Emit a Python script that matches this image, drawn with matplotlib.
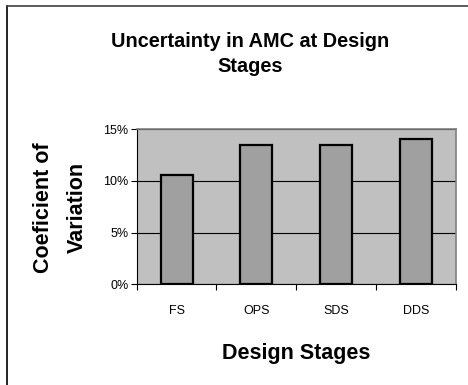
import matplotlib
matplotlib.use("Agg")
import matplotlib.pyplot as plt
from matplotlib.ticker import PercentFormatter, FixedLocator
from matplotlib.lines import Line2D

# Coefficient of variation of AMC for each design stage
stages = ["FS", "OPS", "SDS", "DDS"]
cov = [0.106, 0.135, 0.135, 0.141]
y_ticks = [0.0, 0.05, 0.10, 0.15]

plt.rcParams['font.family'] = ['Liberation Sans', 'DejaVu Sans']

fig = plt.figure(figsize=(4.68, 3.85), dpi=100)
ax = fig.add_axes([0.292, 0.262, 0.682, 0.402])

ax.set_facecolor('#C0C0C0')
x = range(len(stages))
ax.bar(x, cov, width=0.4, color='#A0A0A0', edgecolor='black', linewidth=1.6, zorder=3)

ax.set_xlim(-0.5, len(stages) - 0.5)
ax.set_ylim(0, 0.15)
ax.set_yticks(y_ticks)
ax.yaxis.set_major_formatter(PercentFormatter(1.0, decimals=0))
ax.grid(axis='y', color='black', linewidth=0.8, zorder=1)

ax.set_xticks(list(x))
ax.set_xticklabels(stages)
ax.xaxis.set_minor_locator(FixedLocator([i - 0.5 for i in range(len(stages) + 1)]))
ax.tick_params(axis='x', which='major', length=0, pad=15, labelsize=9)
ax.tick_params(axis='x', which='minor', length=4, direction='out', width=0.8)
ax.tick_params(axis='y', length=4, direction='out', width=0.8, labelsize=9, pad=2)

for s in ['top', 'right']:
    ax.spines[s].set_color('#808080')
    ax.spines[s].set_linewidth(1.2)
for s in ['left', 'bottom']:
    ax.spines[s].set_color('black')
    ax.spines[s].set_linewidth(0.8)

title_kw = dict(ha='center', va='center', fontsize=14.3, fontweight='bold')
fig.text(0.535, 0.893, "Uncertainty in AMC at Design", **title_kw)
fig.text(0.535, 0.828, "Stages", **title_kw)

label_kw = dict(ha='center', va='center', fontsize=15.5, fontweight='bold')
ax.set_xlabel("Design Stages", fontsize=15.5, fontweight='bold', labelpad=19)
fig.text(0.094, 0.46, "Coeficient of", rotation=90, **label_kw)
fig.text(0.165, 0.46, "Variation", rotation=90, **label_kw)

# chart-area frame on the left and top edges
fig.add_artist(Line2D([0.015, 0.015], [0.0, 0.985], transform=fig.transFigure,
                      color='black', linewidth=1.2))
fig.add_artist(Line2D([0.015, 1.0], [0.985, 0.985], transform=fig.transFigure,
                      color='#404040', linewidth=1.2))

fig.savefig("out.png", dpi=100)
